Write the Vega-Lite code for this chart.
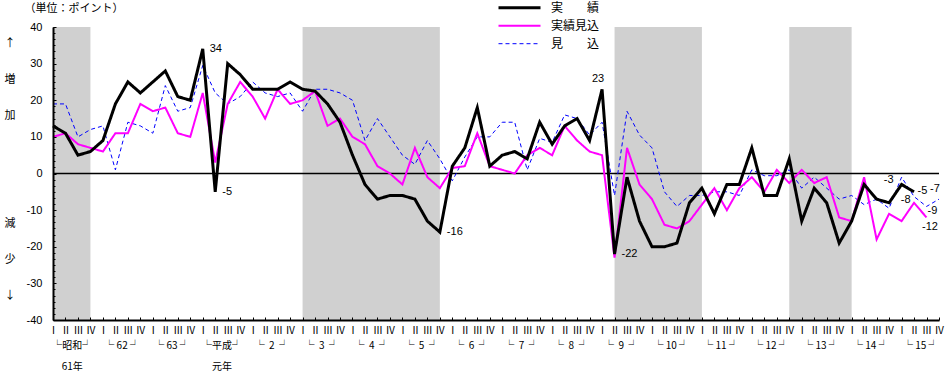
{
  "$schema": "https://vega.github.io/schema/vega-lite/v6.json",
  "width": 886,
  "height": 293,
  "autosize": {"type": "none"},
  "padding": {"left": 53, "top": 27, "right": 7, "bottom": 52},
  "background": "white",
  "config": {"view": {"stroke": null}, "font": "Noto Sans CJK JP"},
  "title": {"text": "（単位：ポイント）", "anchor": "start", "frame": "group", "dx": -28.5, "offset": -14.5, "fontSize": 11, "font": "Noto Sans CJK JP", "fontWeight": "normal", "color": "black"},
  "datasets": {
    "bands": [{"s": 0, "e": 3}, {"s": 20, "e": 31}, {"s": 45, "e": 52}, {"s": 59, "e": 64}],
    "main": [
      {"s":"見　　込","q":0,"v":19},{"s":"見　　込","q":1,"v":19},{"s":"見　　込","q":2,"v":10},{"s":"見　　込","q":3,"v":12},{"s":"見　　込","q":4,"v":13},{"s":"見　　込","q":5,"v":1},{"s":"見　　込","q":6,"v":14},{"s":"見　　込","q":7,"v":13},{"s":"見　　込","q":8,"v":11},{"s":"見　　込","q":9,"v":24},{"s":"見　　込","q":10,"v":17},{"s":"見　　込","q":11,"v":18},
      {"s":"見　　込","q":12,"v":29.5},{"s":"見　　込","q":13,"v":22},{"s":"見　　込","q":14,"v":19},{"s":"見　　込","q":15,"v":21},{"s":"見　　込","q":16,"v":25},{"s":"見　　込","q":17,"v":22},{"s":"見　　込","q":18,"v":21},{"s":"見　　込","q":19,"v":22},{"s":"見　　込","q":20,"v":17},{"s":"見　　込","q":21,"v":23},{"s":"見　　込","q":22,"v":23},{"s":"見　　込","q":23,"v":22},
      {"s":"見　　込","q":24,"v":20},{"s":"見　　込","q":25,"v":9},{"s":"見　　込","q":26,"v":15},{"s":"見　　込","q":27,"v":10},{"s":"見　　込","q":28,"v":5},{"s":"見　　込","q":29,"v":2.5},{"s":"見　　込","q":30,"v":9},{"s":"見　　込","q":31,"v":4},{"s":"見　　込","q":32,"v":-2},{"s":"見　　込","q":33,"v":4.5},{"s":"見　　込","q":34,"v":10},{"s":"見　　込","q":35,"v":10},
      {"s":"見　　込","q":36,"v":14},{"s":"見　　込","q":37,"v":14},{"s":"見　　込","q":38,"v":1},{"s":"見　　込","q":39,"v":9.6},{"s":"見　　込","q":40,"v":8.5},{"s":"見　　込","q":41,"v":16},{"s":"見　　込","q":42,"v":15},{"s":"見　　込","q":43,"v":10.5},{"s":"見　　込","q":44,"v":14},{"s":"見　　込","q":45,"v":-6},{"s":"見　　込","q":46,"v":17},{"s":"見　　込","q":47,"v":10.5},
      {"s":"見　　込","q":48,"v":7},{"s":"見　　込","q":49,"v":-5},{"s":"見　　込","q":50,"v":-9},{"s":"見　　込","q":51,"v":-6},{"s":"見　　込","q":52,"v":-6},{"s":"見　　込","q":53,"v":-5},{"s":"見　　込","q":54,"v":-5},{"s":"見　　込","q":55,"v":-6},{"s":"見　　込","q":56,"v":1},{"s":"見　　込","q":57,"v":-0.6},{"s":"見　　込","q":58,"v":-0.6},{"s":"見　　込","q":59,"v":1},
      {"s":"見　　込","q":60,"v":-4},{"s":"見　　込","q":61,"v":-1},{"s":"見　　込","q":62,"v":-4},{"s":"見　　込","q":63,"v":-7},{"s":"見　　込","q":64,"v":-6},{"s":"見　　込","q":65,"v":-8.5},{"s":"見　　込","q":66,"v":-7},{"s":"見　　込","q":67,"v":-9.5},{"s":"見　　込","q":68,"v":-1},{"s":"見　　込","q":69,"v":-6.3},{"s":"見　　込","q":70,"v":-9},{"s":"見　　込","q":71,"v":-7},
      {"s":"実績見込","q":0,"v":10},{"s":"実績見込","q":1,"v":11},{"s":"実績見込","q":2,"v":8},{"s":"実績見込","q":3,"v":7},{"s":"実績見込","q":4,"v":6},{"s":"実績見込","q":5,"v":11},{"s":"実績見込","q":6,"v":11},{"s":"実績見込","q":7,"v":19},{"s":"実績見込","q":8,"v":17},{"s":"実績見込","q":9,"v":18},{"s":"実績見込","q":10,"v":11},{"s":"実績見込","q":11,"v":10},
      {"s":"実績見込","q":12,"v":22},{"s":"実績見込","q":13,"v":3},{"s":"実績見込","q":14,"v":19},{"s":"実績見込","q":15,"v":25},{"s":"実績見込","q":16,"v":21},{"s":"実績見込","q":17,"v":15},{"s":"実績見込","q":18,"v":23},{"s":"実績見込","q":19,"v":19},{"s":"実績見込","q":20,"v":20},{"s":"実績見込","q":21,"v":22.5},{"s":"実績見込","q":22,"v":13},{"s":"実績見込","q":23,"v":15},
      {"s":"実績見込","q":24,"v":10},{"s":"実績見込","q":25,"v":8},{"s":"実績見込","q":26,"v":2},{"s":"実績見込","q":27,"v":0},{"s":"実績見込","q":28,"v":-3},{"s":"実績見込","q":29,"v":7},{"s":"実績見込","q":30,"v":-1},{"s":"実績見込","q":31,"v":-4},{"s":"実績見込","q":32,"v":1.5},{"s":"実績見込","q":33,"v":2},{"s":"実績見込","q":34,"v":11},{"s":"実績見込","q":35,"v":2},
      {"s":"実績見込","q":36,"v":1},{"s":"実績見込","q":37,"v":0},{"s":"実績見込","q":38,"v":5},{"s":"実績見込","q":39,"v":7},{"s":"実績見込","q":40,"v":5},{"s":"実績見込","q":41,"v":13},{"s":"実績見込","q":42,"v":9},{"s":"実績見込","q":43,"v":6},{"s":"実績見込","q":44,"v":5},{"s":"実績見込","q":45,"v":-23},{"s":"実績見込","q":46,"v":7},{"s":"実績見込","q":47,"v":-3},
      {"s":"実績見込","q":48,"v":-7},{"s":"実績見込","q":49,"v":-14},{"s":"実績見込","q":50,"v":-15},{"s":"実績見込","q":51,"v":-13},{"s":"実績見込","q":52,"v":-8.5},{"s":"実績見込","q":53,"v":-4},{"s":"実績見込","q":54,"v":-10},{"s":"実績見込","q":55,"v":-4},{"s":"実績見込","q":56,"v":-1},{"s":"実績見込","q":57,"v":-5},{"s":"実績見込","q":58,"v":1},{"s":"実績見込","q":59,"v":-2.6},
      {"s":"実績見込","q":60,"v":1},{"s":"実績見込","q":61,"v":-2.6},{"s":"実績見込","q":62,"v":-1},{"s":"実績見込","q":63,"v":-12},{"s":"実績見込","q":64,"v":-13},{"s":"実績見込","q":65,"v":-1},{"s":"実績見込","q":66,"v":-18},{"s":"実績見込","q":67,"v":-11},{"s":"実績見込","q":68,"v":-13},{"s":"実績見込","q":69,"v":-8},{"s":"実績見込","q":70,"v":-12},
      {"s":"実　　績","q":0,"v":13},{"s":"実　　績","q":1,"v":11},{"s":"実　　績","q":2,"v":5},{"s":"実　　績","q":3,"v":6},{"s":"実　　績","q":4,"v":9},{"s":"実　　績","q":5,"v":19},{"s":"実　　績","q":6,"v":25},{"s":"実　　績","q":7,"v":22},{"s":"実　　績","q":8,"v":25},{"s":"実　　績","q":9,"v":28},{"s":"実　　績","q":10,"v":21},{"s":"実　　績","q":11,"v":20},
      {"s":"実　　績","q":12,"v":34},{"s":"実　　績","q":13,"v":-5},{"s":"実　　績","q":14,"v":30},{"s":"実　　績","q":15,"v":27},{"s":"実　　績","q":16,"v":23},{"s":"実　　績","q":17,"v":23},{"s":"実　　績","q":18,"v":23},{"s":"実　　績","q":19,"v":25},{"s":"実　　績","q":20,"v":23},{"s":"実　　績","q":21,"v":22.5},{"s":"実　　績","q":22,"v":19},{"s":"実　　績","q":23,"v":14},
      {"s":"実　　績","q":24,"v":5},{"s":"実　　績","q":25,"v":-3},{"s":"実　　績","q":26,"v":-7},{"s":"実　　績","q":27,"v":-6},{"s":"実　　績","q":28,"v":-6},{"s":"実　　績","q":29,"v":-7},{"s":"実　　績","q":30,"v":-13},{"s":"実　　績","q":31,"v":-16},{"s":"実　　績","q":32,"v":2},{"s":"実　　績","q":33,"v":7},{"s":"実　　績","q":34,"v":18},{"s":"実　　績","q":35,"v":2},
      {"s":"実　　績","q":36,"v":5},{"s":"実　　績","q":37,"v":6},{"s":"実　　績","q":38,"v":4},{"s":"実　　績","q":39,"v":14},{"s":"実　　績","q":40,"v":8},{"s":"実　　績","q":41,"v":13},{"s":"実　　績","q":42,"v":15},{"s":"実　　績","q":43,"v":9},{"s":"実　　績","q":44,"v":23},{"s":"実　　績","q":45,"v":-22},{"s":"実　　績","q":46,"v":-1},{"s":"実　　績","q":47,"v":-13},
      {"s":"実　　績","q":48,"v":-20},{"s":"実　　績","q":49,"v":-20},{"s":"実　　績","q":50,"v":-19},{"s":"実　　績","q":51,"v":-8},{"s":"実　　績","q":52,"v":-4},{"s":"実　　績","q":53,"v":-11},{"s":"実　　績","q":54,"v":-3},{"s":"実　　績","q":55,"v":-3},{"s":"実　　績","q":56,"v":7},{"s":"実　　績","q":57,"v":-6},{"s":"実　　績","q":58,"v":-6},{"s":"実　　績","q":59,"v":4},
      {"s":"実　　績","q":60,"v":-13},{"s":"実　　績","q":61,"v":-4},{"s":"実　　績","q":62,"v":-8},{"s":"実　　績","q":63,"v":-19},{"s":"実　　績","q":64,"v":-13},{"s":"実　　績","q":65,"v":-3},{"s":"実　　績","q":66,"v":-7},{"s":"実　　績","q":67,"v":-8},{"s":"実　　績","q":68,"v":-3},{"s":"実　　績","q":69,"v":-5}
    ]
  },
  "data": {"name": "main"},
  "resolve": {"axis": {"x": "independent", "y": "independent"}},
  "layer": [
    {
      "data": {"name": "bands"},
      "mark": {"type": "rect", "fill": "#d0d0d0"},
      "encoding": {
        "x": {"field": "s", "type": "quantitative", "scale": {"domain": [0, 71], "nice": false, "zero": false},
          "axis": {"orient": "bottom", "values": [1.5, 5.5, 9.5, 13.5, 17.5, 21.5, 25.5, 29.5, 33.5, 37.5, 41.5, 45.5, 49.5, 53.5, 57.5, 61.5, 65.5, 69.5],
            "labelExpr": "[['└昭和┘','61年'],'└\u00a062\u00a0┘','└\u00a063\u00a0┘',['└平成┘','元年'],'└\u00a0\u00a02\u00a0\u00a0┘','└\u00a0\u00a03\u00a0\u00a0┘','└\u00a0\u00a04\u00a0\u00a0┘','└\u00a0\u00a05\u00a0\u00a0┘','└\u00a0\u00a06\u00a0\u00a0┘','└\u00a0\u00a07\u00a0\u00a0┘','└\u00a0\u00a08\u00a0\u00a0┘','└\u00a0\u00a09\u00a0\u00a0┘','└\u00a010\u00a0┘','└\u00a011\u00a0┘','└\u00a012\u00a0┘','└\u00a013\u00a0┘','└\u00a014\u00a0┘','└\u00a015\u00a0┘'][floor(datum.value/4)]",
            "ticks": false, "domain": false, "grid": false, "title": null, "labelPadding": 20, "labelFontSize": 10, "labelLineHeight": 21, "labelFont": "Noto Sans CJK JP", "labelColor": "black", "labelFlush": false, "labelOverlap": false, "labelBound": false}},
        "x2": {"field": "e"}
      }
    },
    {
      "data": {"values": [{}]},
      "mark": {"type": "rule", "color": "black", "strokeWidth": 1.3},
      "encoding": {"y": {"datum": 0, "type": "quantitative",
        "axis": {"orient": "left", "labels": false, "ticks": false, "domain": false, "grid": false,
          "title": ["減", "少", "↓"], "titleAngle": 0, "titleX": -43.5, "titleY": 196, "titleLineHeight": 36, "titleFontSize": 11, "titleFont": "Noto Sans CJK JP", "titleFontWeight": "normal", "titleAlign": "center", "titleBaseline": "middle", "titleColor": "black"}}}
    },
    {
      "mark": {"type": "line", "strokeJoin": "miter"},
      "encoding": {
        "x": {"field": "q", "type": "quantitative", "scale": {"domain": [0, 71], "nice": false, "zero": false},
          "axis": {"orient": "bottom", "zindex": 1, "values": [0,1,2,3,4,5,6,7,8,9,10,11,12,13,14,15,16,17,18,19,20,21,22,23,24,25,26,27,28,29,30,31,32,33,34,35,36,37,38,39,40,41,42,43,44,45,46,47,48,49,50,51,52,53,54,55,56,57,58,59,60,61,62,63,64,65,66,67,68,69,70,71],
            "labelExpr": "['Ⅰ','Ⅱ','Ⅲ','Ⅳ'][datum.value % 4]", "title": null, "grid": false, "domainColor": "black", "domainWidth": 2, "tickColor": "black", "tickSize": -3, "labelPadding": 8, "labelFontSize": 10, "labelFont": "Noto Sans CJK JP", "labelColor": "black", "labelFlush": false, "labelOverlap": false, "labelBound": false}},
        "y": {"field": "v", "type": "quantitative", "scale": {"domain": [-40, 40], "nice": false, "zero": false},
          "axis": {"orient": "left", "zindex": 1, "values": [-40, -30, -20, -10, 0, 10, 20, 30, 40], "labelExpr": "'' + datum.value", "labelOverlap": false,
            "title": ["↑", "増", "加"], "titleAngle": 0, "titleX": -43.5, "titleY": 16, "titleLineHeight": 36, "titleFontSize": 11, "titleFont": "Noto Sans CJK JP", "titleFontWeight": "normal", "titleAlign": "center", "titleBaseline": "middle", "titleColor": "black",
            "grid": false, "domainColor": "black", "domainWidth": 2, "tickColor": "black", "tickSize": -3, "labelPadding": 14, "labelFontSize": 11, "labelFont": "Liberation Sans", "labelColor": "black", "labelFlush": false}},
        "color": {"field": "s", "type": "nominal", "scale": {"domain": ["実　　績", "実績見込", "見　　込"], "range": ["#000000", "#ff00ff", "#0000ff"]},
          "legend": {"orient": "none", "legendX": 444, "legendY": -27.3, "title": null, "symbolType": "stroke", "symbolSize": 1764, "clipHeight": 16, "rowPadding": 2, "labelOffset": 9, "labelFontSize": 12, "labelFont": "Noto Sans CJK JP", "labelColor": "black", "padding": 0}},
        "strokeDash": {"field": "s", "type": "nominal", "scale": {"domain": ["実　　績", "実績見込", "見　　込"], "range": [[1, 0], [1, 0], [4, 3]]},
          "legend": {"orient": "none", "legendX": 444, "legendY": -27.3, "title": null, "symbolType": "stroke", "symbolSize": 1764, "clipHeight": 16, "rowPadding": 2, "labelOffset": 9, "labelFontSize": 12, "labelFont": "Noto Sans CJK JP", "labelColor": "black", "padding": 0}},
        "strokeWidth": {"field": "s", "type": "ordinal", "scale": {"domain": ["実　　績", "実績見込", "見　　込"], "range": [3, 1, 1]},
          "legend": {"orient": "none", "legendX": 444, "legendY": -27.3, "title": null, "symbolType": "stroke", "symbolSize": 1764, "clipHeight": 16, "rowPadding": 2, "labelOffset": 9, "labelFontSize": 12, "labelFont": "Noto Sans CJK JP", "labelColor": "black", "padding": 0}}
      }
    },
    {
      "transform": [{"filter": "datum.s=='実　　績' && (datum.q==12 || datum.q==13 || datum.q==31 || datum.q==45)"}],
      "mark": {"type": "text", "align": "left", "baseline": "middle", "dx": 7, "fontSize": 11, "font": "Liberation Sans", "color": "black"},
      "encoding": {"x": {"field": "q", "type": "quantitative", "axis": null},
        "y": {"field": "v", "type": "quantitative",
          "axis": {"orient": "left", "zindex": 1, "labels": false, "domain": false, "grid": false, "title": null, "ticks": true, "tickSize": -2, "tickColor": "black", "tickWidth": 1,
            "values": [-40,-38.333,-36.667,-35,-33.333,-31.667,-30,-28.333,-26.667,-25,-23.333,-21.667,-20,-18.333,-16.667,-15,-13.333,-11.667,-10,-8.333,-6.667,-5,-3.333,-1.667,0,1.667,3.333,5,6.667,8.333,10,11.667,13.333,15,16.667,18.333,20,21.667,23.333,25,26.667,28.333,30,31.667,33.333,35,36.667,38.333,40]}},
        "text": {"field": "v", "type": "nominal"}}
    },
    {
      "transform": [{"filter": "(datum.s=='実　　績' && datum.q==44) || (datum.s=='見　　込' && datum.q==71)"}],
      "mark": {"type": "text", "align": "center", "baseline": "middle", "dx": -4, "dy": -10, "fontSize": 11, "font": "Liberation Sans", "color": "black"},
      "encoding": {"x": {"field": "q", "type": "quantitative", "axis": null}, "y": {"field": "v", "type": "quantitative", "axis": null}, "text": {"field": "v", "type": "nominal"}}
    },
    {
      "transform": [{"filter": "datum.s=='実　　績' && datum.q==68"}],
      "mark": {"type": "text", "align": "right", "baseline": "middle", "dx": -8, "dy": -4, "fontSize": 11, "font": "Liberation Sans", "color": "black"},
      "encoding": {"x": {"field": "q", "type": "quantitative", "axis": null}, "y": {"field": "v", "type": "quantitative", "axis": null}, "text": {"field": "v", "type": "nominal"}}
    },
    {
      "transform": [{"filter": "datum.s=='実績見込' && datum.q==69"}],
      "mark": {"type": "text", "align": "right", "baseline": "middle", "dx": -3.5, "dy": -3, "fontSize": 11, "font": "Liberation Sans", "color": "black"},
      "encoding": {"x": {"field": "q", "type": "quantitative", "axis": null}, "y": {"field": "v", "type": "quantitative", "axis": null}, "text": {"field": "v", "type": "nominal"}}
    },
    {
      "transform": [{"filter": "datum.s=='実　　績' && datum.q==69"}],
      "mark": {"type": "text", "align": "left", "baseline": "middle", "dx": 3.5, "dy": -1, "fontSize": 11, "font": "Liberation Sans", "color": "black"},
      "encoding": {"x": {"field": "q", "type": "quantitative", "axis": null}, "y": {"field": "v", "type": "quantitative", "axis": null}, "text": {"field": "v", "type": "nominal"}}
    },
    {
      "transform": [{"filter": "datum.s=='見　　込' && datum.q==70"}],
      "mark": {"type": "text", "align": "left", "baseline": "middle", "dx": 1, "dy": 5, "fontSize": 11, "font": "Liberation Sans", "color": "black"},
      "encoding": {"x": {"field": "q", "type": "quantitative", "axis": null}, "y": {"field": "v", "type": "quantitative", "axis": null}, "text": {"field": "v", "type": "nominal"}}
    },
    {
      "transform": [{"filter": "datum.s=='実績見込' && datum.q==70"}],
      "mark": {"type": "text", "align": "center", "baseline": "middle", "dx": 3.5, "dy": 9.5, "fontSize": 11, "font": "Liberation Sans", "color": "black"},
      "encoding": {"x": {"field": "q", "type": "quantitative", "axis": null}, "y": {"field": "v", "type": "quantitative", "axis": null}, "text": {"field": "v", "type": "nominal"}}
    }
  ]
}
